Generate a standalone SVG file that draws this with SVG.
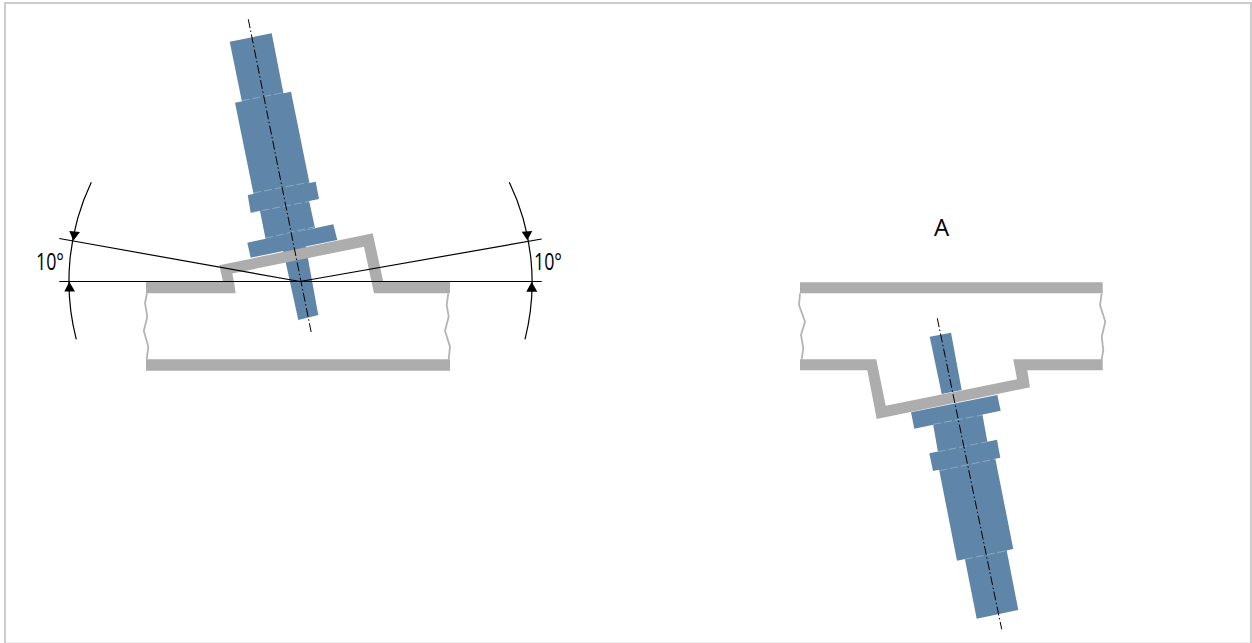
<svg xmlns="http://www.w3.org/2000/svg" width="1252" height="643" viewBox="0 0 1252 643">
<style>
.s{fill:#5f86a8}
.g{fill:#adadad}
.w{fill:none;stroke:#b4b4b4;stroke-width:1.8}
.seam{fill:none;stroke:#a8bccd;stroke-width:.8;stroke-dasharray:8 3;stroke-opacity:.8}
.c{fill:none;stroke:#000;stroke-width:1;stroke-dasharray:9 2.500 1.500 2.500}
.d{fill:none;stroke:#000;stroke-width:1.2}
.a{fill:#000}
text{font-family:"Open Sans","Noto Sans","Liberation Sans",sans-serif;fill:#000}
</style>
<rect x="0" y="0" width="1252" height="643" fill="#fff"/>
<path d="M5 643V3H1251V643" fill="none" stroke="#cccccc" stroke-width="2"/>
<line x1="6" y1="642.500" x2="1250" y2="642.500" stroke="#eeeeee" stroke-width="1"/>
<g id="housing-left">
<polygon class="g" points="146,359.300 450,359.300 450,370.700 146,370.700"/>
<polyline class="w" points="147,293.300 145,303 147.300,316.700 143.800,330.700 148.300,346.700 146.700,359.300"/>
<polyline class="w" points="448.300,293.300 446.700,305 448.700,316.700 445,330.700 450,346.700 448.700,359.300"/>
</g>
<g id="sensor-left">
<polygon class="s" points="229.700,41.700 271.700,33.300 283.800,95 242.200,103"/>
<polygon class="s" points="235,102.700 291,91.700 309.800,184.500 253.800,195.200"/>
<polygon class="s" points="247.700,195 315.700,181.700 319,199 250.700,212.700"/>
<polygon class="s" points="258.800,205 307.800,195 315,228 265.800,240"/>
<polygon class="s" points="247.300,242.700 333.300,224.300 337.300,240 250.700,257.700"/>
<polygon class="s" points="283,250 305.500,245 318.300,315 298.300,320"/>
<path class="seam" d="M241.700 100.700L283.300 92.700M253.300 193L309.300 182.300M250.700 212.700L309 201.500M265.300 238.300L315 226.700"/>
</g>
<g id="bracket-left">
<polygon class="g" points="146,281.700 223,281.700 219.300,265.300 372.700,233.300 383.300,281.700 450,281.700 450,293.300 374,293.300 364,246.700 232.300,273.500 234,281.700 235.700,293.300 146,293.300"/>
</g>
<g id="dimension-left">
<line class="d" x1="59.300" y1="281.500" x2="541.700" y2="281.500"/>
<polyline class="d" points="59.300,238.500 300,281.500 541.700,239"/>
<path class="d" d="M91.300 182.300A231 231 0 0 0 76.300 339.300"/>
<path class="d" d="M509.300 182.300A231 231 0 0 1 525 339.300"/>
<polygon class="a" points="73.300,240.700 69.300,231 80,232"/>
<polygon class="a" points="69.300,281.700 64.300,291.500 75,291.500"/>
<polygon class="a" points="527.300,240.200 521.700,231.700 532.300,231"/>
<polygon class="a" points="531.700,281.700 526.300,291.700 537.300,291.700"/>
<line class="c" x1="248.300" y1="19.300" x2="311.300" y2="332.700"/>
<text x="36" y="270" font-size="23.500" textLength="28" lengthAdjust="spacingAndGlyphs">10°</text>
<text x="534" y="270" font-size="23.500" textLength="28" lengthAdjust="spacingAndGlyphs">10°</text>
</g>
<g id="housing-right">
<polygon class="g" points="800,282.300 1102.700,282.300 1102.700,293.300 800,293.300"/>
<polyline class="w" points="800,293.300 799,305 805,321.700 801,335 803.300,348.300 801.700,359.300"/>
<polyline class="w" points="1101.700,293.300 1100,305 1105.300,321.700 1101.700,336.700 1103.300,350 1101.700,359.300"/>
</g>
<g id="sensor-right">
<polygon class="s" points="929.700,336.700 951,332.700 961.700,390 941.700,394"/>
<polygon class="s" points="911,412.300 997.300,395 1000.700,410.700 914.300,428.700"/>
<polygon class="s" points="931.500,415 980.700,405 987.800,444 938.300,454"/>
<polygon class="s" points="929.300,453.300 997,439.700 1000.300,457.700 933,471"/>
<polygon class="s" points="938.800,468 994.800,456 1013.300,549 957,560.700"/>
<polygon class="s" points="964.500,557 1006.200,548 1018.300,610 976.700,618.700"/>
<path class="seam" d="M933.300 424.300L982.700 415M937.700 451.700L987.300 441.700M939.300 470.700L995.300 459M965 559.300L1006.700 550.700"/>
</g>
<g id="bracket-right">
<polygon class="g" points="800,359.300 876.300,359.300 885.700,405.700 1017,379.300 1013.300,359.300 1102.700,359.300 1102.700,370.300 1027.300,370.300 1030,387.300 876.700,419 867.300,370.300 800,370.300"/>
</g>
<g id="label-right">
<line class="c" x1="937.300" y1="318.300" x2="1001.700" y2="629.300"/>
<text x="934" y="236" font-size="24">A</text>
</g>
</svg>
